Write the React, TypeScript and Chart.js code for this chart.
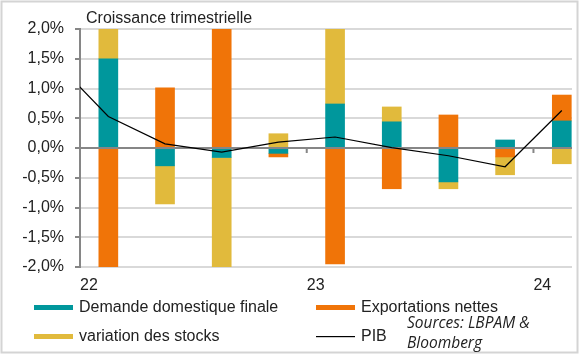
import React, { useEffect, useRef } from "react";
import { Chart, registerables } from "chart.js";

Chart.register(...registerables);

// Quarters (first one only feeds the PIB line, it is left of the visible axis)
const quarters = ["T4 21", "T1 22", "T2 22", "T3 22", "T4 22", "T1 23", "T2 23", "T3 23", "T4 23", "T1 24"];
const demandeDomestique = [null, 1.5, -0.3, -0.16, -0.09, 0.74, 0.44, -0.57, 0.135, 0.455];
const exportationsNettes = [null, -2.1, 1.01, 2.3, -0.06, -1.95, -0.685, 0.555, -0.15, 0.435];
const variationStocks = [null, 1.1, -0.64, -2.2, 0.24, 1.4, 0.25, -0.115, -0.3, -0.265];
const pib = [1.52, 0.53, 0.07, -0.07, 0.1, 0.185, 0.005, -0.13, -0.315, 0.63];
const yearLabels = ["22", "23", "24"];
const yearTickValues = [0, 4, 8];

const TEAL = "#00979c";
const ORANGE = "#f07408";
const YELLOW = "#e1ba3c";
const AXIS = "#868686";
const GRID = "#d9d9d9";
const TEXT = "#222222";
const FONT = "'Liberation Sans', Arial, sans-serif";

const toPoints = (arr: (number | null)[]) =>
  quarters.map((_, i) => ({ x: i - 0.5, y: arr[i] }));

const fmtPct = (v: number) => v.toFixed(1).replace(".", ",") + "%";

const decorPlugin = {
  id: "decor",
  beforeDatasetDraw(chart: any, args: any) {
    if (args.meta.type !== "line") return;
    const { ctx, chartArea, scales } = chart;
    const y0 = scales.y.getPixelForValue(0);
    ctx.save();
    ctx.strokeStyle = AXIS;
    ctx.lineWidth = 2;
    ctx.beginPath();
    ctx.moveTo(chartArea.left, y0);
    ctx.lineTo(chartArea.right, y0);
    yearTickValues.forEach((v) => {
      const x = scales.x.getPixelForValue(v);
      ctx.moveTo(x, y0);
      ctx.lineTo(x, y0 + 5);
    });
    ctx.stroke();
    ctx.restore();
  },
  afterDraw(chart: any) {
    const { ctx } = chart;
    ctx.save();
    // outer border
    ctx.strokeStyle = "#d4d4d4";
    ctx.lineWidth = 2;
    ctx.strokeRect(1.5, 1.5, 576, 351);
    // title
    ctx.fillStyle = TEXT;
    ctx.font = `16px ${FONT}`;
    ctx.textBaseline = "middle";
    ctx.textAlign = "left";
    ctx.fillText("Croissance trimestrielle", 86, 19);
    // legend
    const items = [
      { label: "Demande domestique finale", color: TEAL, x: 34, y: 307.5, line: false },
      { label: "Exportations nettes", color: ORANGE, x: 316, y: 307.5, line: false },
      { label: "variation des stocks", color: YELLOW, x: 34, y: 336.5, line: false },
      { label: "PIB", color: "#000000", x: 316, y: 336.5, line: true },
    ];
    items.forEach((it) => {
      ctx.fillStyle = it.color;
      if (it.line) {
        ctx.fillRect(it.x, it.y - 0.5, 39, 1.2);
      } else {
        ctx.fillRect(it.x, it.y - 2.5, 39, 5);
      }
      ctx.fillStyle = TEXT;
      ctx.font = `16px ${FONT}`;
      ctx.fillText(it.label, it.x + 45, it.y);
    });
    ctx.font = `italic 15.5px 'Open Sans', sans-serif`;
    ctx.fillStyle = TEXT;
    ctx.fillText("Sources: LBPAM &", 407, 324);
    ctx.fillText("Bloomberg", 407, 344);
    ctx.restore();
  },
};

export default function App() {
  const ref = useRef<HTMLCanvasElement>(null);
  useEffect(() => {
    const barCommon = {
      type: "bar" as const,
      barThickness: 19,
      borderWidth: 0,
      stack: "bars",
      order: 1,
      clip: 0,
    };
    const chart = new Chart(ref.current!, {
      type: "bar",
      data: {
        datasets: [
          { ...barCommon, label: "Demande domestique finale", data: toPoints(demandeDomestique), backgroundColor: TEAL },
          { ...barCommon, label: "Exportations nettes", data: toPoints(exportationsNettes), backgroundColor: ORANGE },
          { ...barCommon, label: "variation des stocks", data: toPoints(variationStocks), backgroundColor: YELLOW },
          {
            type: "line",
            label: "PIB",
            data: toPoints(pib),
            borderColor: "#000000",
            borderWidth: 1.2,
            pointRadius: 0,
            tension: 0,
            stack: "pib",
            order: 0,
            clip: 0,
          } as any,
        ],
      },
      plugins: [decorPlugin],
      options: {
        animation: false,
        responsive: false,
        devicePixelRatio: 1,
        layout: { padding: { top: 29, right: 8, bottom: 0, left: 0 } },
        plugins: { legend: { display: false }, title: { display: false }, tooltip: { enabled: false } },
        scales: {
          x: {
            type: "linear",
            min: 0,
            max: 8.68,
            offset: false,
            bounds: "ticks",
            stacked: true,
            grid: { display: false, drawTicks: false, offset: false },
            border: { display: false },
            afterBuildTicks: (scale: any) => {
              scale.ticks = yearTickValues.map((v) => ({ value: v }));
            },
            afterFit: (scale: any) => {
              scale.height = 90;
            },
            ticks: {
              align: "start",
              padding: 9,
              color: TEXT,
              font: { family: FONT, size: 16 },
              callback: (v: any) => yearLabels[yearTickValues.indexOf(Number(v))] ?? "",
            },
          },
          y: {
            min: -2,
            max: 2,
            stacked: true,
            afterFit: (scale: any) => {
              scale.width = 80;
            },
            border: { display: true, color: AXIS, width: 2 },
            grid: {
              color: (c: any) => (c.tick && c.tick.value === 0 ? "rgba(0,0,0,0)" : GRID),
              lineWidth: 2,
              tickColor: AXIS,
              tickLength: 5,
              tickWidth: 2,
            },
            ticks: {
              stepSize: 0.5,
              padding: 11,
              color: TEXT,
              font: { family: FONT, size: 16 },
              callback: (v: any) => fmtPct(Number(v)),
            },
          },
        },
      } as any,
    });
    return () => chart.destroy();
  }, []);
  return (
    <div style={{ position: "absolute", left: 0, top: 0, width: 580, height: 357 }}>
      <canvas ref={ref} width={580} height={357} style={{ display: "block" }} />
    </div>
  );
}
